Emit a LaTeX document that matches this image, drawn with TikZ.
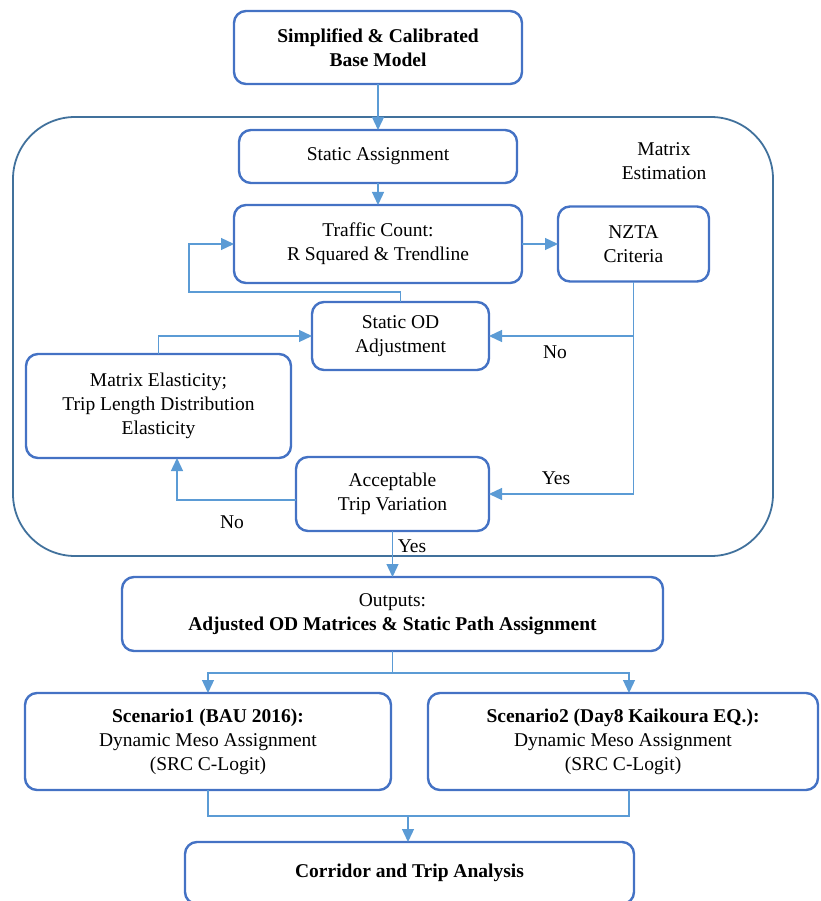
\documentclass[tikz,border=0pt]{standalone}
\usepackage{fontspec}
\setmainfont{Liberation Serif}
\usepackage{tikz}
\usetikzlibrary{
	arrows.meta,
	positioning
}
\definecolor{boxblue}{HTML}{4472C4}
\definecolor{flowblue}{HTML}{5B9BD5}
\definecolor{frameblue}{HTML}{41719C}
\tikzset{
	node distance=20pt,
	every node/.append style={
		font=\fontsize{19.5pt}{24pt}\selectfont
	},
	stage/.style={
		draw=boxblue,
		line width=2.4pt,
		rounded corners=12pt,
		align=center,
		inner sep=0pt,
		outer sep=0pt
	},
	dims/.style 2 args={
		minimum width=#1,
		minimum height=#2
	},
	link/.style={
		draw=flowblue,
		line width=1.3pt
	},
	flow/.style={
		link,
		-{Triangle[length=13pt,width=12pt]}
	}
}

\begin{document}
\begin{tikzpicture}[x=1pt,y=-1pt]
	\useasboundingbox (0,0) rectangle (820,901);
	% matrix estimation frame
	\draw[frameblue,line width=1.8pt,rounded corners=62pt] (13,117) rectangle (773,556);
	\draw
		node [stage,dims={288pt}{73pt}] (base) at (378,47.5) {\textbf{Simplified \& Calibrated}\\\textbf{Base Model}}
		node [stage,dims={278pt}{53pt},below=46pt of base]                 (static)  {Static Assignment}
		node [stage,dims={288pt}{78pt},below=22pt of static]               (traffic) {Traffic Count:\\R Squared \& Trendline}
		node [stage,dims={151pt}{75pt},right=36pt of traffic]              (nzta)    {NZTA\\Criteria}
		node [stage,dims={177pt}{68pt},below=19pt of traffic,xshift=22.5pt] (odadj)  {Static OD\\Adjustment}
		node [stage,dims={193pt}{74pt},below=87pt of odadj,xshift=-8pt]    (accept)  {Acceptable\\Trip Variation}
		node [stage,dims={265pt}{104pt},below left=-16pt and 21pt of odadj] (elast)  {Matrix Elasticity;\\Trip Length Distribution\\Elasticity}
		node [stage,dims={541pt}{74pt},below=46pt of accept]               (outputs) {Outputs:\\\textbf{Adjusted OD Matrices \& Static Path Assignment}}
		node [stage,dims={366pt}{97pt},below=42pt of outputs,xshift=-184.5pt] (scen1) {\textbf{Scenario1 (BAU 2016):}\\Dynamic Meso Assignment\\(SRC C-Logit)}
		node [stage,dims={390pt}{97pt},right=37pt of scen1]                (scen2)   {\textbf{Scenario2 (Day8 Kaikoura EQ.):}\\Dynamic Meso Assignment\\(SRC C-Logit)}
		node [stage,dims={449pt}{62pt}] (corridor) at (409.5,873) {\textbf{Corridor and Trip Analysis}}
		node [align=center] (matest) at (664,161) {Matrix\\Estimation}
		node (noleft)   at (232,522) {No}
		node (noright)  at (555,352) {No}
		node (yesright) at (556,478) {Yes}
		node (yesdown)  at (412,546) {Yes}
	;
	% connectors
	\coordinate (join) at (408,816);
	\draw[flow] (base) -- (static);
	\draw[flow] (static) -- (traffic);
	\draw[flow] (traffic.east) -- (traffic.east -| nzta.west);
	\draw[flow] (odadj.north) -- ++(0,10pt) -| ([xshift=-45pt]traffic.west) -- (traffic.west);
	\draw[flow] (elast.north) |- (odadj.west);
	\draw[flow] ([yshift=-6pt]accept.west) -| ([xshift=18.5pt]elast.south);
	\draw[flow] (nzta.south) |- (odadj.east);
	\draw[flow] (nzta.south) |- (accept.east);
	\draw[flow] (accept.south) -- (accept.south |- outputs.north);
	\draw[flow] (outputs.south) -- ++(0,-22pt) -| (scen1.north);
	\draw[flow] (outputs.south) -- ++(0,-22pt) -| ([xshift=6pt]scen2.north);
	\draw[link] (scen1.south) |- (join) -| ([xshift=6pt]scen2.south);
	\draw[flow] (join) -- (join |- corridor.north);
\end{tikzpicture}
\end{document}
